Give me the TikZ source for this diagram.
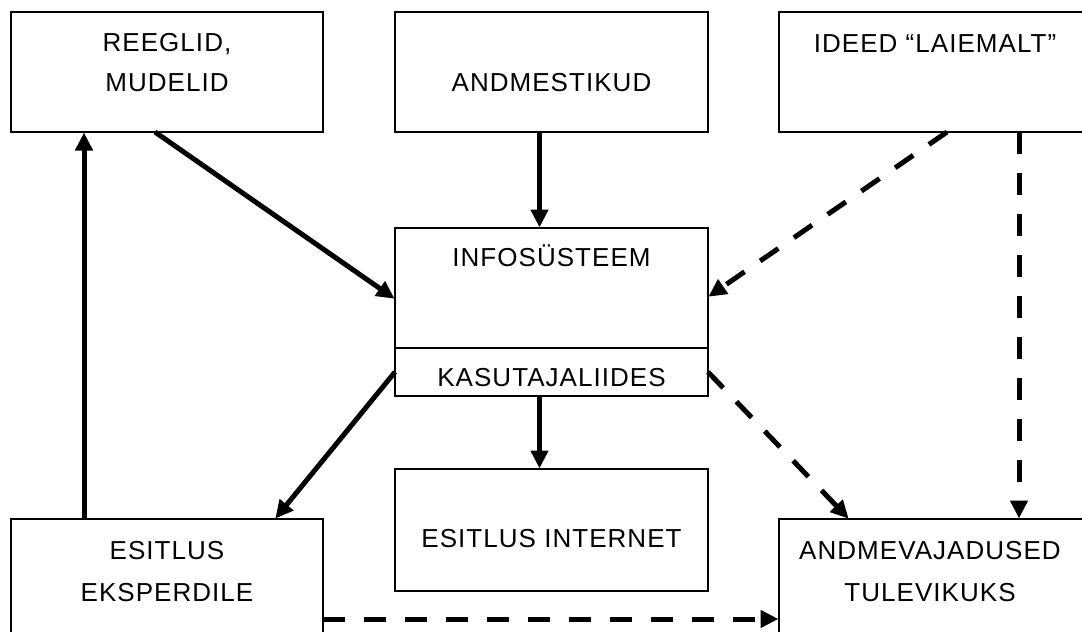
\documentclass[tikz,border=0pt]{standalone}
\usepackage{fontspec}
\setmainfont{Liberation Sans}[LetterSpace=4]
\usetikzlibrary{arrows.meta}
\begin{document}
\begin{tikzpicture}[x=1pt,y=-1pt,
  box/.style={draw,line width=1.5pt,inner sep=0pt,outer sep=0pt,anchor=north west},
  txt/.style={anchor=base,inner sep=0pt,font=\fontsize{26}{40}\selectfont,align=center},
  conn/.style={line width=5pt,-{Triangle[length=18pt,width=17pt]},shorten >=0.5pt},
  dconn/.style={conn,dash pattern=on 22pt off 19pt}]
\useasboundingbox (0,0) rectangle (1082,632);
\clip (0,0) rectangle (1082,632);
% boxes
\node[box,minimum width=312pt,minimum height=120pt] (reeg) at (11,12) {};
\node[box,minimum width=313pt,minimum height=120pt] (andm) at (395,12) {};
\node[box,minimum width=311pt,minimum height=120pt] (ideed) at (779,12) {};
\node[box,minimum width=313pt,minimum height=120pt] (infotop) at (395,228) {};
\node[box,minimum width=313pt,minimum height=48pt] (kasut) at (395,348) {};
\node[box,minimum width=312pt,minimum height=130pt] (eksp) at (11,519) {};
\node[box,minimum width=313pt,minimum height=122pt] (inet) at (395,469) {};
\node[box,minimum width=311pt,minimum height=130pt] (andv) at (779,519) {};
% texts (multi-line nodes: base = baseline of the last line)
\node[txt] (treeg) at (167,91) {REEGLID,\\MUDELID};
\node[txt] (tandm) at (551.5,91) {ANDMESTIKUD};
\node[txt] (tideed) at (935,52) {IDEED “LAIEMALT”};
\node[txt] (tinfo) at (551.5,266) {INFOSÜSTEEM};
\node[txt] (tkasut) at (551.5,386) {KASUTAJALIIDES};
\node[txt,font=\fontsize{26}{42}\selectfont] (teksp) at (167,601) {ESITLUS\\EKSPERDILE};
\node[txt] (tinet) at (551.5,547) {ESITLUS INTERNET};
\node[txt,font=\fontsize{26}{42}\selectfont] (tandv) at (930,601) {ANDMEVAJADUSED\\TULEVIKUKS};
% connectors
\draw[conn] ([xshift=-12pt]reeg.south) -- ([yshift=-11pt]infotop.west);
\draw[conn] ([xshift=-83pt]eksp.north) -- ([xshift=-83pt]reeg.south);
\draw[conn] ([xshift=-12pt]andm.south) -- ([xshift=-12pt]infotop.north);
\draw[conn] ([xshift=-12pt]kasut.south) -- ([xshift=-12pt]inet.north);
\draw[conn] (kasut.west) -- ([xshift=108pt]eksp.north);
\draw[dconn] ([xshift=12.5pt]ideed.south) -- ([yshift=-9pt]infotop.east);
\draw[dconn] ([xshift=84.5pt]ideed.south) -- ([xshift=84.5pt]andv.north);
\draw[dconn] (kasut.east) -- ([xshift=-85.5pt]andv.north);
\draw[dconn] ([yshift=-35pt]eksp.east) -- ([yshift=-35pt]andv.west);
\end{tikzpicture}
\end{document}
